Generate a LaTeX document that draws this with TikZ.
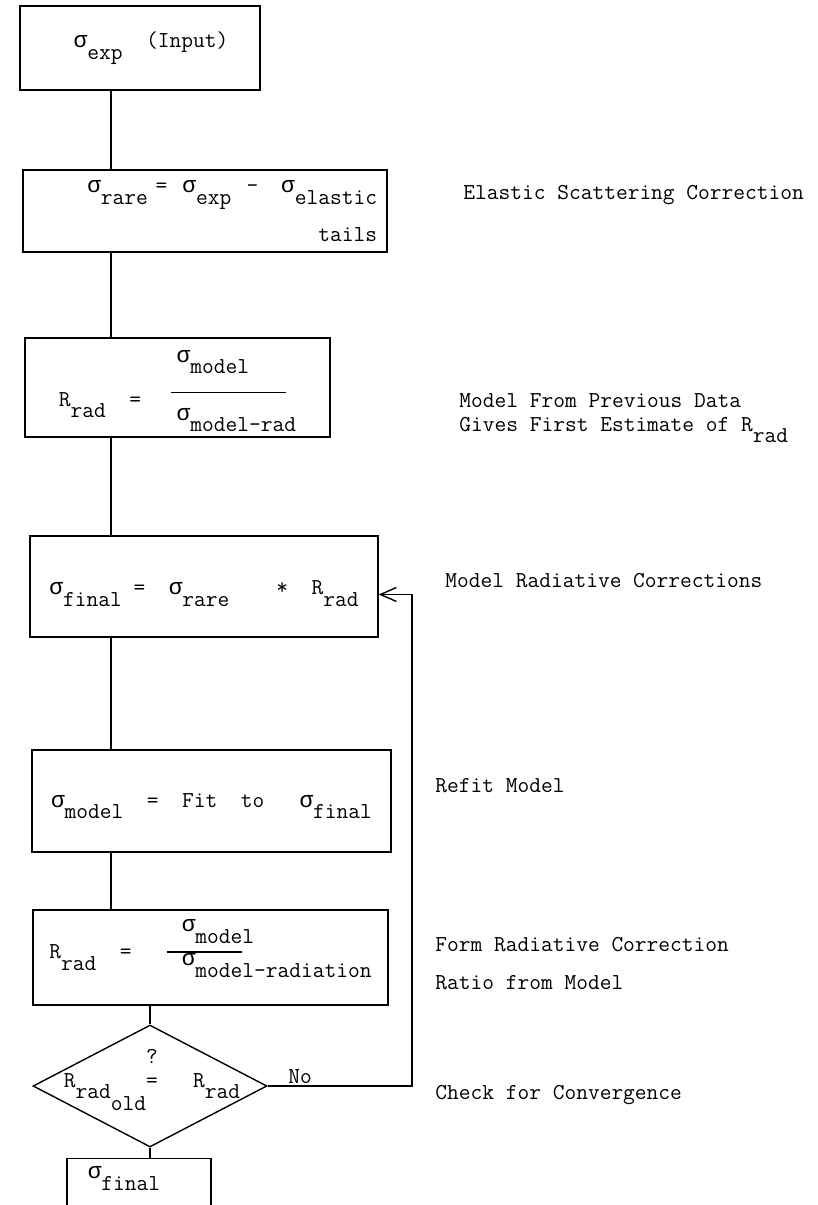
\documentclass[tikz,border=0pt]{standalone}
\usepackage{fontspec}
\newfontfamily\sigfont{Liberation Mono}
\usetikzlibrary{arrows.meta,shapes.geometric}

% typewriter style subscript: same size, half a line down
\newcommand{\lo}[1]{\raisebox{-0.5em}{#1}}
\newcommand{\sig}{{\sigfont σ}}

\begin{document}
\begin{tikzpicture}[x=0.5pt,y=-0.5pt,line width=0.7pt,
    font=\fontsize{11.4}{13.7}\selectfont\ttfamily,
    >={Straight Barb[length=8pt,width=7pt]},
    box/.style={draw,inner sep=0pt},
    decision/.style={draw,diamond,inner sep=0pt},
    note/.style={anchor=mid west}]
    \useasboundingbox (0,0) rectangle (818,1205);

    \node[box,minimum width=120pt,minimum height=42pt]  (inp)   at (140,48)
        {\hspace{11pt}\sig\lo{exp}~~(Input)};
    \node[box,minimum width=182pt,minimum height=41pt,text width=172pt,align=right] (rare) at (205,211)
        {\sig\lo{rare}~=~~\sig\lo{exp}~~-~~~\sig\lo{elastic}\\[8pt]tails};
    \node[box,minimum width=152.5pt,minimum height=49.5pt] (rrad)  at (177.5,387.5)
        {R\lo{rad}~~=~~\hspace{3pt}\raisebox{22pt}{\begin{tabular}[t]{@{}l@{}}\hspace{3pt}\sig\lo{model}\\\rule{57.5pt}{0.6pt}\\\hspace{3pt}\sig\lo{model-rad}\end{tabular}}};
    \node[box,minimum width=174pt,minimum height=50.5pt]  (corr)  at (204,586.5)
        {\rule{0pt}{14pt}\sig\lo{final}~=~~\sig\lo{rare}~~~~*~~R\lo{rad}};
    \node[box,minimum width=179.5pt,minimum height=51pt]  (refit) at (211.5,801)
        {\rule{0pt}{12pt}\sig\lo{model}~~=~~Fit~~to~~~\sig\lo{final}};
    \node[box,minimum width=177.5pt,minimum height=47.5pt] (ratio) at (210.5,957.5)
        {\rule[-22pt]{0pt}{1pt}R\lo{rad}~~=~~~\raisebox{13.5pt}{\begin{tabular}[t]{@{}l@{}}\hspace{7.5pt}\sig\lo{model}\\[-4.9pt]\rule{37.5pt}{0.6pt}\\[-7pt]\hspace{7.5pt}\sig\lo{model-radiation}\end{tabular}}};
    \node[decision,minimum width=117pt,minimum height=61pt] (conv) at (150,1086) {};
    \node[align=center] (convtxt) at (152,1080) {?\\[-2pt]R\lo{rad\lo{old}}=~~~R\lo{rad}};
    \node (no) at (300,1077) {No};
    \node[box,anchor=north,minimum width=72pt,text height=10pt,text depth=40pt] (out) at (139,1158)
        {\sig\lo{final}\kern15pt};

    % notes on the right
    \node[note] (elastic) at (456,195)  {Elastic Scattering Correction};
    \node[note] (prev)    at (452,403)  {Model From Previous Data};
    \node[note] (first)   at (452,427)  {Gives First Estimate of R\lo{rad}};
    \node[note] (radcorr) at (438,583)  {Model Radiative Corrections};
    \node[note] (refitm)  at (428,788)  {Refit Model};
    \node[note] (form)    at (428,947)  {Form Radiative Correction};
    \node[note] (ratiom)  at (428,985)  {Ratio from Model};
    \node[note] (check)   at (428,1095) {Check for Convergence};

    \coordinate (spine) at (111,0);
    \coordinate (loop)  at (412,0);

    \draw (inp.south -| spine)   -- (rare.north -| spine);
    \draw (rare.south -| spine)  -- (rrad.north -| spine);
    \draw (rrad.south -| spine)  -- (corr.north -| spine);
    \draw (corr.south -| spine)  -- (refit.north -| spine);
    \draw (refit.south -| spine) -- (ratio.north -| spine);
    \draw (ratio.south -| conv.north) -- (conv.north);
    \draw (conv.south) -- (out.north -| conv.south);
    \draw[->] (conv.east) -- (conv.east -| loop) |- ([yshift=-4pt]corr.east);

\end{tikzpicture}
\end{document}
